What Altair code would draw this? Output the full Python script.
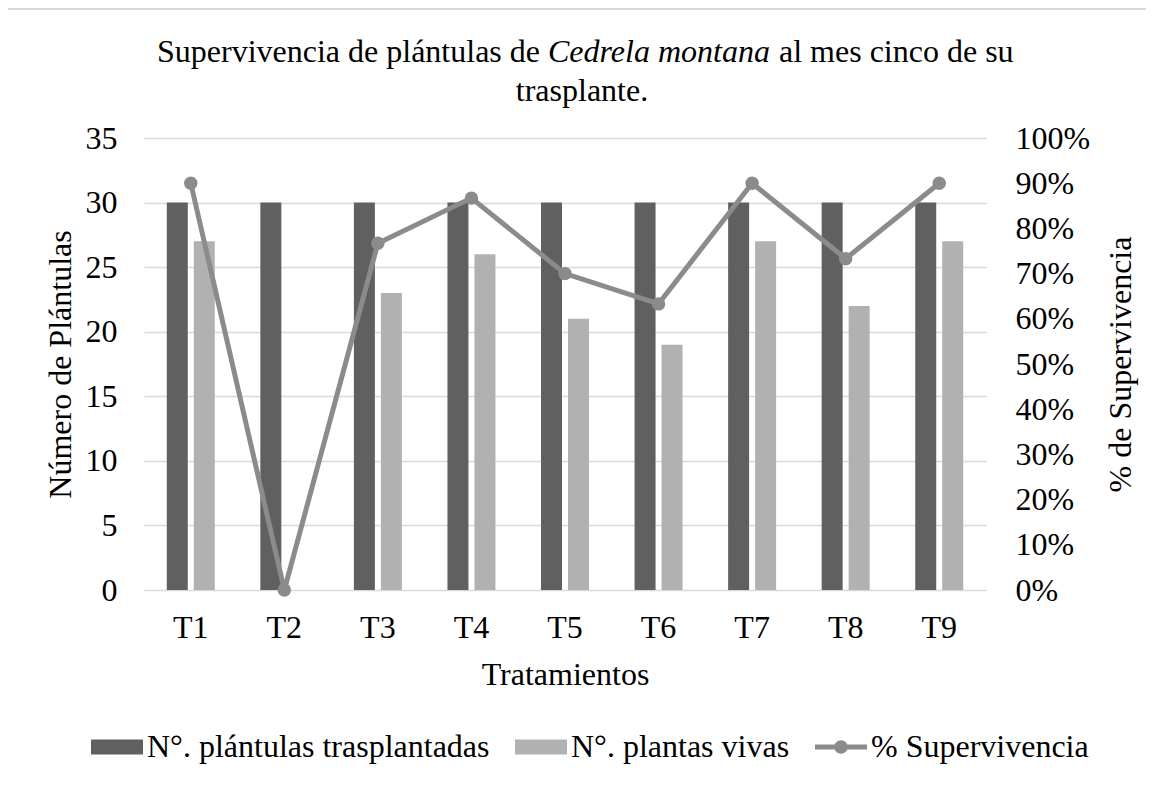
import altair as alt
import pandas as pd

# ---- data ----
tratamientos = ["T1", "T2", "T3", "T4", "T5", "T6", "T7", "T8", "T9"]
trasplantadas = [30, 30, 30, 30, 30, 30, 30, 30, 30]
vivas = [27, 0, 23, 26, 21, 19, 27, 22, 27]
supervivencia = [0.90, 0.0, 0.767, 0.867, 0.70, 0.633, 0.90, 0.733, 0.90]

serie_a = "N°. plántulas trasplantadas"
serie_b = "N°. plantas vivas"
serie_c = "% Supervivencia"
series = [serie_a, serie_b, serie_c]
colores = ["#606060", "#b1b1b1", "#8b8b8b"]

titulo_a = "Supervivencia de plántulas de"
titulo_b = "Cedrela montana"
titulo_c = "al mes cinco de su"
titulo_d = "trasplante."

FONT = "Liberation Serif"
FS = 32

bars_df = pd.DataFrame(
    [{"trat": t, "serie": serie_a, "valor": v} for t, v in zip(tratamientos, trasplantadas)]
    + [{"trat": t, "serie": serie_b, "valor": v} for t, v in zip(tratamientos, vivas)]
)
line_df = pd.DataFrame({"trat": tratamientos, "pct": supervivencia})

x_enc = alt.X(
    "trat:N",
    sort=tratamientos,
    scale=alt.Scale(paddingInner=0.487, paddingOuter=0.2435),
    axis=alt.Axis(
        title="Tratamientos",
        labelAngle=0,
        labelPadding=22,
        ticks=False,
        domain=False,
        grid=False,
        titleY=94,
        titleBaseline="alphabetic",
    ),
)

PATH_RECT = "M-1,-0.288H1V0.288H-1Z"
PATH_LINE = "M-1,-0.094H1V0.094H-1Z M0.26,0A0.26,0.26 0 1,1 -0.26,0A0.26,0.26 0 1,1 0.26,0Z"

legend = alt.Legend(
    title=None,
    orient="none",
    direction="horizontal",
    legendX=-53,
    legendY=583,
    padding=0,
    symbolSize=2704,
    symbolType={"expr": "datum.value === '" + serie_c + "' ? '" + PATH_LINE + "' : '" + PATH_RECT + "'"},
    symbolOpacity=1,
    symbolStrokeWidth=0,
    labelOffset=4,
    columnPadding=25,
    labelLimit=600,
    labelFontSize=FS,
    labelFont=FONT,
    labelColor="#000000",
)

bars = (
    alt.Chart(bars_df)
    .mark_bar()
    .encode(
        x=x_enc,
        xOffset=alt.XOffset("serie:N", sort=[serie_a, serie_b], scale=alt.Scale(paddingInner=0.222)),
        y=alt.Y(
            "valor:Q",
            scale=alt.Scale(domain=[0, 35], nice=False),
            axis=alt.Axis(
                title="Número de Plántulas",
                values=[0, 5, 10, 15, 20, 25, 30, 35],
                ticks=False,
                domain=False,
                labelPadding=27,
                gridColor="#d9d9d9",
                gridWidth=1.5,
                titleAngle=270,
                titleX=-74,
                titleBaseline="alphabetic",
            ),
        ),
        color=alt.Color("serie:N", scale=alt.Scale(domain=series, range=colores), legend=legend),
    )
)

line = (
    alt.Chart(line_df)
    .mark_line(
        strokeWidth=5,
        color="#8b8b8b",
        point=alt.OverlayMarkDef(filled=True, size=180, opacity=1, color="#8b8b8b", shape="circle"),
    )
    .encode(
        x=alt.X("trat:N", sort=tratamientos),
        y=alt.Y(
            "pct:Q",
            scale=alt.Scale(domain=[0, 1], nice=False),
            axis=alt.Axis(
                orient="right",
                title="% de Supervivencia",
                format=".0%",
                values=[0, 0.1, 0.2, 0.3, 0.4, 0.5, 0.6, 0.7, 0.8, 0.9, 1.0],
                grid=False,
                ticks=False,
                domain=False,
                labelPadding=29,
                titleAngle=270,
                titleX=144,
                titleBaseline="alphabetic",
            ),
        ),
    )
)

title_df = pd.DataFrame({"k": [0]})
Y1 = -76
Y2 = -37
t_a = alt.Chart(title_df).mark_text(
    text=titulo_a, font=FONT, fontSize=FS, align="right", baseline="alphabetic", color="#000000"
).encode(x=alt.value(396), y=alt.value(Y1))
t_b = alt.Chart(title_df).mark_text(
    text=titulo_b, font=FONT, fontSize=FS, fontStyle="italic", align="left", baseline="alphabetic", color="#000000"
).encode(x=alt.value(404), y=alt.value(Y1))
t_c = alt.Chart(title_df).mark_text(
    text=titulo_c, font=FONT, fontSize=FS, align="left", baseline="alphabetic", color="#000000"
).encode(x=alt.value(635), y=alt.value(Y1))
t_d = alt.Chart(title_df).mark_text(
    text=titulo_d, font=FONT, fontSize=FS, align="center", baseline="alphabetic", color="#000000"
).encode(x=alt.value(438), y=alt.value(Y2))

# light frame of the chart area (top and left edges, as in the reference)
frame_top = alt.Chart(title_df).mark_rule(color="#d9d9d9", strokeWidth=2).encode(
    x=alt.value(-137), x2=alt.value(1017), y=alt.value(-129)
)
frame_left = alt.Chart(title_df).mark_rule(color="#d9d9d9", strokeWidth=2).encode(
    x=alt.value(-137), y=alt.value(-129), y2=alt.value(647)
)

chart = (
    alt.layer(frame_top, frame_left, bars, line, t_a, t_b, t_c, t_d)
    .resolve_scale(y="independent")
    .properties(
        width=842,
        height=452,
        autosize=alt.AutoSizeParams(type="none"),
        padding={"left": 136, "top": 130, "right": 160, "bottom": 180},
    )
    .configure(background="white", font=FONT)
    .configure_view(stroke=None)
    .configure_axis(
        labelFont=FONT,
        labelFontSize=FS,
        labelColor="#000000",
        titleFont=FONT,
        titleFontSize=FS,
        titleColor="#000000",
        titleFontWeight="normal",
        labelLimit=300,
    )
)

chart.save("out.html", embed_options={"renderer": "svg", "actions": False})
